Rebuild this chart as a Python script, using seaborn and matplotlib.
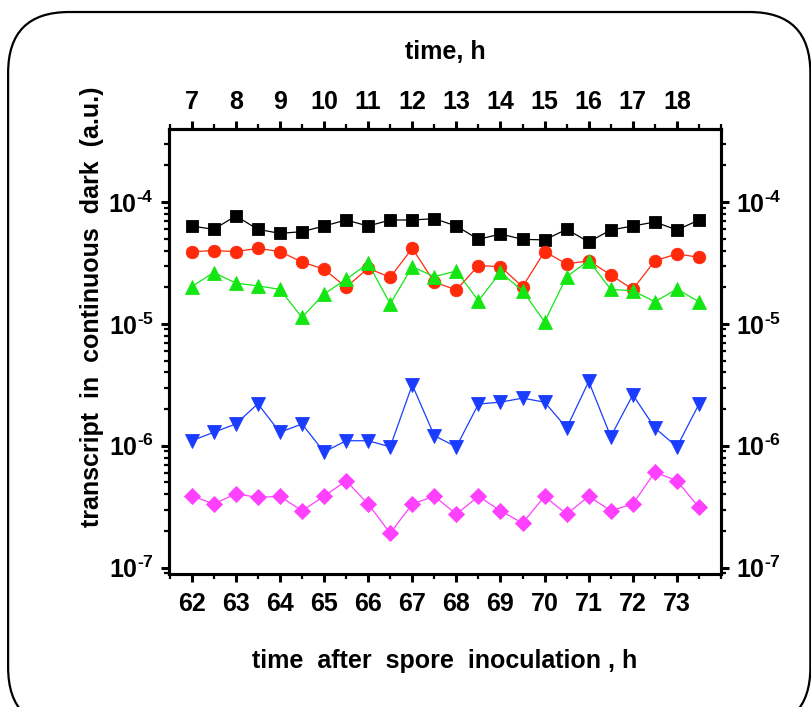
import numpy as np
import pandas as pd
import seaborn as sns
import matplotlib
matplotlib.use("Agg")
import matplotlib.pyplot as plt
from matplotlib.patches import FancyBboxPatch
from matplotlib.ticker import FixedLocator, LogLocator, FuncFormatter, NullFormatter

# sampling times (h after spore inoculation)
hours = [62.0, 62.5, 63.0, 63.5, 64.0, 64.5, 65.0, 65.5, 66.0, 66.5, 67.0, 67.5,
         68.0, 68.5, 69.0, 69.5, 70.0, 70.5, 71.0, 71.5, 72.0, 72.5, 73.0, 73.5]

# transcript levels in continuous dark (a.u.)
black_sq = [6.35e-5, 5.97e-5, 7.68e-5, 5.97e-5, 5.53e-5, 5.71e-5, 6.35e-5, 7.12e-5,
            6.35e-5, 7.12e-5, 7.12e-5, 7.30e-5, 6.35e-5, 4.94e-5, 5.47e-5, 4.94e-5,
            4.89e-5, 5.97e-5, 4.70e-5, 5.90e-5, 6.35e-5, 6.86e-5, 5.90e-5, 7.12e-5]
red_circ = [3.92e-5, 3.99e-5, 3.92e-5, 4.17e-5, 3.92e-5, 3.22e-5, 2.81e-5, 2.00e-5,
            2.86e-5, 2.41e-5, 4.17e-5, 2.20e-5, 1.90e-5, 3.01e-5, 2.95e-5, 2.02e-5,
            3.92e-5, 3.10e-5, 3.30e-5, 2.52e-5, 1.92e-5, 3.30e-5, 3.75e-5, 3.52e-5]
green_up = [2.02e-5, 2.64e-5, 2.16e-5, 2.05e-5, 1.92e-5, 1.13e-5, 1.76e-5, 2.32e-5,
            3.14e-5, 1.46e-5, 2.95e-5, 2.44e-5, 2.72e-5, 1.55e-5, 2.65e-5, 1.87e-5,
            1.04e-5, 2.44e-5, 3.30e-5, 1.92e-5, 1.87e-5, 1.52e-5, 1.93e-5, 1.52e-5]
blue_down = [1.10e-6, 1.29e-6, 1.51e-6, 2.21e-6, 1.29e-6, 1.51e-6, 8.90e-7, 1.10e-6,
             1.10e-6, 9.80e-7, 3.16e-6, 1.21e-6, 9.80e-7, 2.20e-6, 2.28e-6, 2.46e-6,
             2.28e-6, 1.40e-6, 3.37e-6, 1.19e-6, 2.62e-6, 1.40e-6, 9.80e-7, 2.20e-6]
magenta_dia = [3.89e-7, 3.33e-7, 4.04e-7, 3.77e-7, 3.85e-7, 2.93e-7, 3.85e-7, 5.16e-7,
               3.33e-7, 1.92e-7, 3.33e-7, 3.85e-7, 2.75e-7, 3.85e-7, 2.93e-7, 2.32e-7,
               3.85e-7, 2.75e-7, 3.85e-7, 2.93e-7, 3.33e-7, 6.08e-7, 5.16e-7, 3.12e-7]

top_ticks = [7, 8, 9, 10, 11, 12, 13, 14, 15, 16, 17, 18]
bottom_ticks = [62, 63, 64, 65, 66, 67, 68, 69, 70, 71, 72, 73]

series = [
    (black_sq, "#000000", "s", 8.5),
    (red_circ, "#FF2A0A", "o", 9.0),
    (green_up, "#14E614", "^", 10.0),
    (blue_down, "#1A3CFF", "v", 10.0),
    (magenta_dia, "#FF40FF", "D", 8.0),
]

sns.set_theme(style="ticks")
FONT = ["Liberation Sans Narrow", "Liberation Sans", "DejaVu Sans"]
plt.rcParams["font.family"] = FONT
plt.rcParams["font.weight"] = "bold"
for key in ["text.color", "axes.labelcolor", "xtick.color", "ytick.color", "axes.edgecolor"]:
    plt.rcParams[key] = "black"
plt.rcParams["mathtext.fontset"] = "custom"
plt.rcParams["mathtext.rm"] = "Liberation Sans:bold"
plt.rcParams["mathtext.bf"] = "Liberation Sans:bold"

FS = 18

fig = plt.figure(figsize=(8.12, 7.07), dpi=100)
fig.patch.set_facecolor("white")

# rounded frame around the whole figure
frame = FancyBboxPatch((0.010, -0.03), 0.988, 1.013,
                       boxstyle="round,pad=0,rounding_size=0.075",
                       transform=fig.transFigure, fill=False,
                       edgecolor="black", linewidth=1.6, zorder=0,
                       mutation_aspect=812 / 707)
fig.patches.append(frame)

ax = fig.add_axes([0.2081, 0.1881, 0.888 - 0.2081, 0.8175 - 0.1881])

for vals, col, mk, ms in series:
    df = pd.DataFrame({"t": hours, "v": vals})
    sns.lineplot(data=df, x="t", y="v", ax=ax, color=col, marker=mk,
                 markersize=ms, markeredgecolor=col, markeredgewidth=0.6,
                 linewidth=0.9, legend=False)

ax.set_yscale("log")
ax.set_xlim(61.485, 74.0)
ax.set_ylim(8.87e-8, 3.97e-4)

for sp in ax.spines.values():
    sp.set_linewidth(2.2)
    sp.set_color("black")

ax.xaxis.set_major_locator(FixedLocator(bottom_ticks))
ax.xaxis.set_minor_locator(FixedLocator(np.arange(61.5, 74.01, 0.5)))
ax.yaxis.set_minor_locator(LogLocator(base=10, subs=np.arange(2, 10), numticks=20))
ax.yaxis.set_minor_formatter(NullFormatter())


def pow_fmt(v, pos):
    e = int(round(np.log10(v)))
    sign = r"\text{-}" if e < 0 else ""
    return r"$\mathbf{10^{%s%d}}$" % (sign, abs(e))


ax.set_yticks([1e-7, 1e-6, 1e-5, 1e-4])
ax.yaxis.set_major_formatter(FuncFormatter(pow_fmt))

tick_kw = dict(direction="out", color="black", labelcolor="black")
ax.tick_params(axis="both", which="major", length=6, width=2.2, labelsize=FS, pad=5, **tick_kw)
ax.tick_params(axis="both", which="minor", length=3.5, width=1.6, **tick_kw)
ax.tick_params(axis="x", which="major", pad=7)
for lab in ax.get_xticklabels() + ax.get_yticklabels():
    lab.set_fontweight("bold")

ax.set_xlabel("time  after  spore  inoculation , h", fontsize=FS, fontweight="bold", labelpad=24)
ax.set_ylabel("transcript  in  continuous  dark  (a.u.)", fontsize=FS, fontweight="bold")
ax.yaxis.set_label_coords(-0.118, 0.60)

# right axis repeating the log scale
axr = ax.twinx()
axr.set_yscale("log")
axr.set_ylim(ax.get_ylim())
axr.yaxis.set_minor_locator(LogLocator(base=10, subs=np.arange(2, 10), numticks=20))
axr.yaxis.set_minor_formatter(NullFormatter())
axr.set_yticks([1e-7, 1e-6, 1e-5, 1e-4])
axr.yaxis.set_major_formatter(FuncFormatter(pow_fmt))
axr.tick_params(axis="y", which="major", length=6, width=2.2, labelsize=FS, pad=5, **tick_kw)
axr.tick_params(axis="y", which="minor", length=3.5, width=1.6, **tick_kw)
for sp in axr.spines.values():
    sp.set_linewidth(2.2)
    sp.set_color("black")

# top axis: time in hours of the experiment
axt = ax.secondary_xaxis("top", functions=(lambda x: x - 55, lambda x: x + 55))
axt.xaxis.set_major_locator(FixedLocator(top_ticks))
axt.xaxis.set_minor_locator(FixedLocator(np.arange(6.5, 19.01, 0.5)))
axt.tick_params(axis="x", which="major", length=6, width=2.2, labelsize=FS, pad=5, **tick_kw)
axt.tick_params(axis="x", which="minor", length=3.5, width=1.6, **tick_kw)
axt.spines["top"].set_linewidth(2.2)
axt.spines["top"].set_color("black")
for lab in axt.get_xticklabels():
    lab.set_fontweight("bold")
axt.set_xlabel("time, h", fontsize=FS, fontweight="bold", labelpad=22)

fig.savefig("out.png", dpi=100, facecolor="white")
